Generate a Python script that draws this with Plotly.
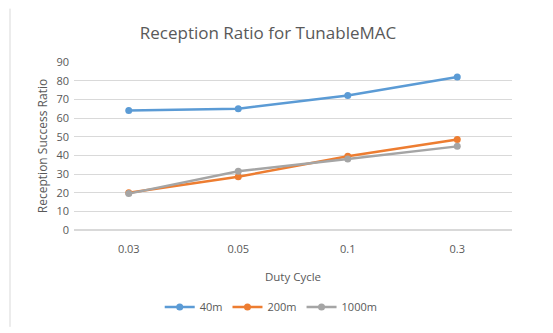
import plotly.graph_objects as go

categories = ["0.03", "0.05", "0.1", "0.3"]
s40 = [64, 65, 72, 82]
s200 = [20, 28.5, 39.5, 48.5]
s1000 = [19.5, 31.5, 38, 44.8]
series = [("40m", s40, "#5B9BD5"), ("200m", s200, "#ED7D31"), ("1000m", s1000, "#A5A5A5")]

fig = go.Figure()
for name, vals, col in series:
    fig.add_trace(go.Scatter(x=categories, y=vals, name=name, mode="lines+markers",
                             line=dict(color=col, width=2.5),
                             marker=dict(color=col, size=7, symbol="circle")))

L, R, T, B = 74, 41, 62, 101
W, H = 553, 333
fig.update_layout(
    width=W, height=H,
    margin=dict(l=L, r=R, t=T, b=B),
    paper_bgcolor="white", plot_bgcolor="white",
    font=dict(family="Open Sans, Liberation Sans, sans-serif", color="#595959", size=11),
    title=dict(text="Reception Ratio for TunableMAC", x=(268) / W, xanchor="center",
               y=1 - 33 / H, yanchor="middle", font=dict(size=17, color="#595959")),
    xaxis=dict(type="category", range=[-0.5, 3.5], showgrid=False, showline=False, zeroline=False,
               ticks="", tickfont=dict(size=11, color="#595959"), ticklabelstandoff=11,
               title=dict(text="Duty Cycle", font=dict(size=11.5, color="#595959"), standoff=17)),
    yaxis=dict(range=[0, 90], dtick=10, showgrid=True, gridcolor="#D9D9D9", gridwidth=1,
               zeroline=True, zerolinecolor="#D9D9D9", showline=False, ticks="",
               tickfont=dict(size=11, color="#595959"), ticklabelstandoff=4,
               title=dict(text="Reception Success Ratio", font=dict(size=12, color="#595959"), standoff=6)),
    legend=dict(orientation="h", x=249 / W, xanchor="center", xref="paper",
                y=-(310 - (H - B)) / (H - T - B), yanchor="middle",
                font=dict(size=11, color="#595959"), itemwidth=30),
    showlegend=True,
)
fig.add_shape(type="line", xref="paper", yref="paper",
              x0=(10 - L) / (W - L - R), x1=(10 - L) / (W - L - R),
              y0=(H - B - 330) / (H - T - B), y1=(H - B - 8) / (H - T - B),
              line=dict(color="#D9D9D9", width=1))
fig.write_html("out.html")
